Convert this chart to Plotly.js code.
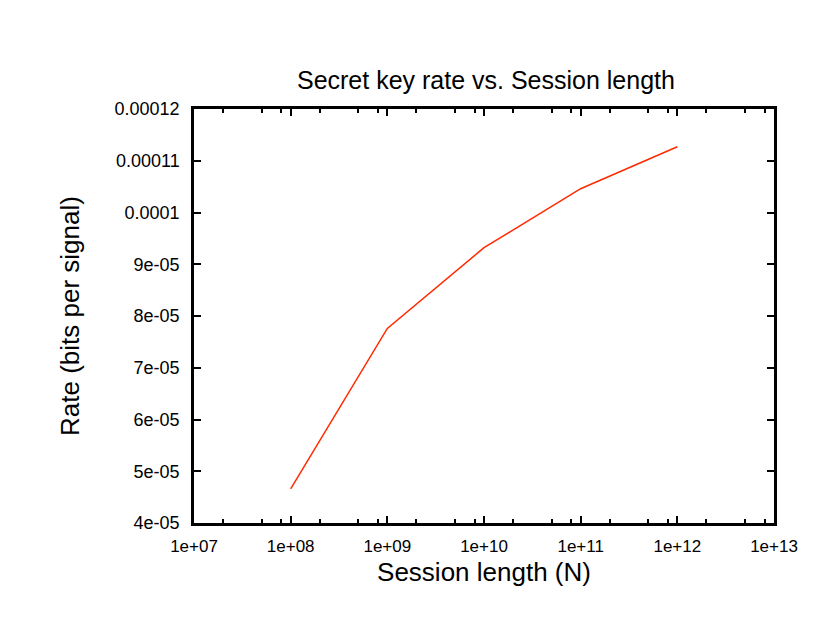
<!DOCTYPE html>
<html>
<head>
<meta charset="utf-8">
<script src="https://cdn.plot.ly/plotly-3.0.1.min.js"></script>
<style>
  body { margin: 0; background: #fff; }
  #graph { width: 830px; height: 642px; }
</style>
</head>
<body>
<div id="graph"></div>
<script>
// session length N vs secret key rate
var sessionLength = [1e8, 1e9, 1e10, 1e11, 1e12];
var keyRate = [4.66e-5, 7.76e-5, 9.32e-5, 1.046e-4, 1.127e-4];

var xTickVals = [1e7, 1e8, 1e9, 1e10, 1e11, 1e12, 1e13];
var xTickText = ['1e+07', '1e+08', '1e+09', '1e+10', '1e+11', '1e+12', '1e+13'];
var xMinorVals = [];
[1e7, 1e8, 1e9, 1e10, 1e11, 1e12].forEach(function (d) {
	xMinorVals.push(2 * d, 5 * d, 8 * d);
});
var yTickVals = [4e-5, 5e-5, 6e-5, 7e-5, 8e-5, 9e-5, 1e-4, 1.1e-4, 1.2e-4];
var yTickText = ['4e-05', '5e-05', '6e-05', '7e-05', '8e-05', '9e-05', '0.0001', '0.00011', '0.00012'];

var trace = {
	x: sessionLength,
	y: keyRate,
	type: 'scatter',
	mode: 'lines',
	line: { color: '#ff2a00', width: 1.5 },
	showlegend: false
};

var layout = {
	width: 830,
	height: 642,
	margin: { l: 194, r: 56, t: 109, b: 119 },
	paper_bgcolor: '#fff',
	plot_bgcolor: '#fff',
	font: { family: 'Liberation Sans, Arial, sans-serif', color: '#000', size: 17 },
	title: {
		text: 'Secret key rate vs. Session length',
		font: { size: 25 },
		x: 0.5855, xanchor: 'center',
		y: 0.875, yanchor: 'middle'
	},
	xaxis: {
		type: 'log',
		range: [7, 13],
		tickmode: 'array',
		tickvals: xTickVals,
		ticktext: xTickText,
		ticks: 'inside',
		ticklen: 7,
		tickwidth: 2,
		tickcolor: '#000',
		minor: { tickmode: 'array', tickvals: xMinorVals, ticks: 'inside', ticklen: 4, tickwidth: 2, tickcolor: '#000' },
		showline: true,
		linewidth: 2.5,
		linecolor: '#000',
		mirror: 'allticks',
		showgrid: false,
		zeroline: false,
		ticklabelstandoff: 6,
		title: { text: 'Session length (N)', font: { size: 26 }, standoff: 8 }
	},
	yaxis: {
		range: [4e-5, 1.2e-4],
		tickmode: 'array',
		tickvals: yTickVals,
		ticktext: yTickText,
		tickfont: { size: 18 },
		ticks: 'inside',
		ticklen: 7,
		tickwidth: 2,
		tickcolor: '#000',
		showline: true,
		linewidth: 2.5,
		linecolor: '#000',
		mirror: 'allticks',
		showgrid: false,
		zeroline: false,
		ticklabelstandoff: 8,
		title: { text: 'Rate (bits per signal)', font: { size: 26 }, standoff: 28 }
	}
};

Plotly.newPlot('graph', [trace], layout, { displayModeBar: false });
</script>
</body>
</html>
